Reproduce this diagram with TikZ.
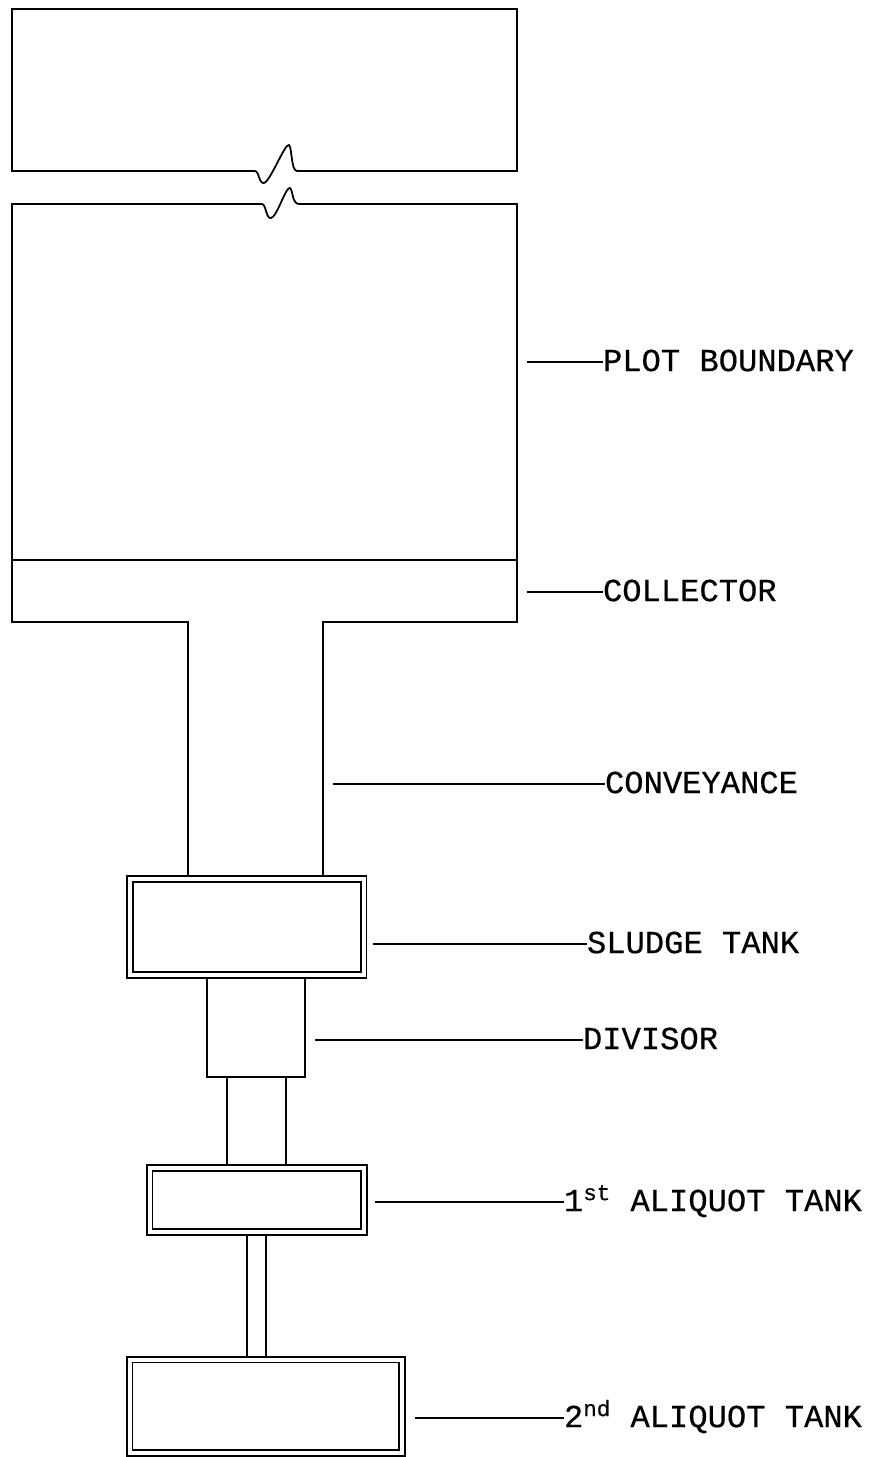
\documentclass[tikz,border=0pt]{standalone}
\usepackage{fontspec}
\newfontfamily\typefont[FakeBold=0.5]{Liberation Mono}
\usetikzlibrary{positioning}

\begin{document}
\begin{tikzpicture}[x=0.02cm,y=-0.02cm,line width=1pt,line join=miter,
  tank/.style={draw,line width=0.8pt,double=white,double distance=2.5pt},
  lbl/.style={anchor=west,inner sep=0pt,outer sep=0pt,text height=10.4pt,text depth=0pt,
    font=\typefont\fontsize{18.3}{20}\selectfont}]
\useasboundingbox (0,0) rectangle (873,1457);
% plot, broken in two
\draw (12,171) -- (12,9) -- (517,9) -- (517,171) -- (297,171)
  .. controls (291,171) and (292,147) .. (289,145) .. controls (285,143) and (270,182) .. (264,183)
  .. controls (259,184) and (259,171) .. (255,171) -- cycle;
\draw (188,877) -- (188,622) -- (12,622) -- (12,204) -- (262,204)
  .. controls (266,204) and (266,219) .. (271,218) .. controls (277,217) and (286,186) .. (290,188)
  .. controls (293,190) and (292,204) .. (299,204) -- (517,204) -- (517,622) -- (323,622) -- (323,877);
\draw (12,560) -- (517,560);
% tanks and divisor
\draw[tank] (130,879) rectangle (363.7,975);
\draw (207,978) rectangle (305,1077);
\draw (227,1077) -- (227,1165) (286,1077) -- (286,1165);
\draw[tank] (149.7,1168) rectangle (364,1232);
\draw (247,1235) -- (247,1357) (266,1235) -- (266,1357);
\draw[tank] (129.7,1359.7) rectangle (402,1453);
% labels
\coordinate (pb) at (527,362);   \node[lbl] (plot) at (603,362) {PLOT BOUNDARY};
\coordinate (co) at (527,592);   \node[lbl] (coll) at (603,592) {COLLECTOR};
\coordinate (cv) at (333,784);   \node[lbl] (conv) at (605,784) {CONVEYANCE};
\coordinate (st) at (373,944);   \node[lbl] (sludge) at (587,944) {SLUDGE TANK};
\coordinate (dv) at (315,1040);  \node[lbl] (div) at (583,1040) {DIVISOR};
\coordinate (a1) at (375,1202);  \node[lbl] (aliq1) at (564,1202) {1\textsuperscript{st} ALIQUOT TANK};
\coordinate (a2) at (415,1418);  \node[lbl] (aliq2) at (564,1418) {2\textsuperscript{nd} ALIQUOT TANK};
\draw (pb) -- (plot); \draw (co) -- (coll); \draw (cv) -- (conv); \draw (st) -- (sludge);
\draw (dv) -- (div); \draw (a1) -- (aliq1); \draw (a2) -- (aliq2);
\end{tikzpicture}
\end{document}
